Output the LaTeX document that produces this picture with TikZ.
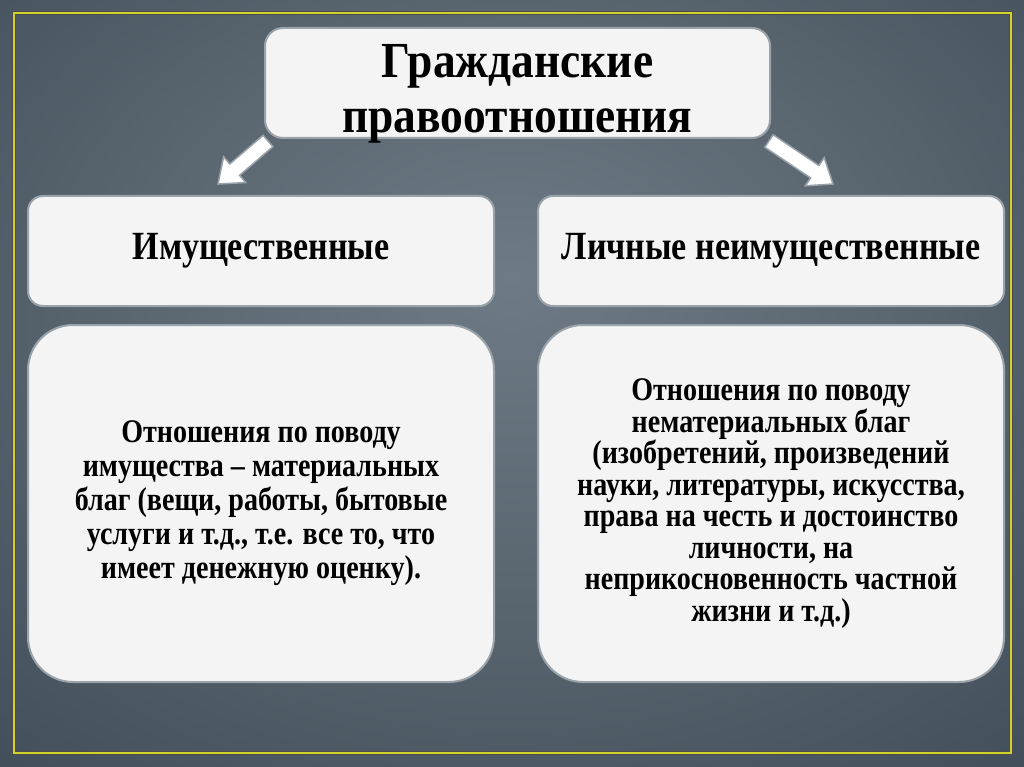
\documentclass[tikz,border=0pt]{standalone}
\usepackage{fontspec}
\setmainfont{Liberation Serif}
\newfontfamily\titlefont[FakeStretch=0.9]{Liberation Serif}
\newfontfamily\condfont[FakeStretch=0.85]{Liberation Serif}
\usetikzlibrary{calc}
\pgfdeclarelayer{back}
\pgfdeclarelayer{mid}
\pgfsetlayers{back,mid,main}
\definecolor{bgc}{HTML}{6E7B86}
\definecolor{bgm}{HTML}{58656F}
\definecolor{bgo}{HTML}{3A4652}
\definecolor{bge}{HTML}{25313D}
\definecolor{bgx}{HTML}{1C2834}
\definecolor{boxfill}{HTML}{F4F4F4}
\definecolor{boxline}{HTML}{9AA3A9}
\definecolor{frameyel}{HTML}{D2D22E}
\pgfdeclareradialshading{bgshade}{\pgfpoint{0bp}{7bp}}{color(0bp)=(bgc); color(20bp)=(bgm); color(45bp)=(bgo); color(60bp)=(bge); color(75bp)=(bgx)}
\tikzset{
  card/.style={draw=boxline, line width=2pt, fill=boxfill, inner sep=0pt, align=center, text=black},
  titlebox/.style={card, rounded corners=18pt, minimum width=505pt, minimum height=110pt},
  headbox/.style={card, rounded corners=15pt, minimum width=466pt, minimum height=110pt, font=\condfont\fontsize{40}{44}\selectfont\bfseries},
  bodybox/.style={card, rounded corners=45pt, minimum width=466pt, minimum height=357pt},
  titletext/.style={inner sep=0pt, align=center, text=black, font=\titlefont\fontsize{50.5}{55}\selectfont\bfseries},
  blockarrow/.style={draw=boxline, line width=1.5pt, fill=white, line join=miter}
}
\begin{document}
\begin{tikzpicture}[x=1pt,y=-1pt]
\useasboundingbox (0,0) rectangle (1024,767);
\begin{pgfonlayer}{back}
\shade[shading=bgshade] (0,0) rectangle (1024,767);
\draw[black!70, line width=4.5pt] (14,13) rectangle (1011,753);
\draw[frameyel, line width=2.5pt] (14,13) rectangle (1011,753);
\end{pgfonlayer}

\node[titlebox] (title) at (517.5,83) {};
\node[titletext] (titletxt) at ($(title.center)+(0,11)$) {Гражданские\\правоотношения};
\node[headbox] (imL) at (261,251) {Имущественные};
\node[headbox] (imR) at (771,251) {Личные неимущественные};

\coordinate (la) at ($(title.south west)+(4,2)$);
\coordinate (lb) at ($(imL.north)+(-43,-11)$);
\coordinate (ra) at ($(title.south east)+(-2,2)$);
\coordinate (rb) at ($(imR.north)+(62,-11)$);
\coordinate (ln) at ($(lb)!22pt!(la)$);
\coordinate (rn) at ($(rb)!22pt!(ra)$);
\begin{pgfonlayer}{mid}
\draw[blockarrow] ($(la)!7.5pt!90:(lb)$) -- ($(ln)!7.5pt!-90:(la)$) -- ($(ln)!17pt!-90:(la)$) -- (lb)
  -- ($(ln)!17pt!90:(la)$) -- ($(ln)!7.5pt!90:(la)$) -- ($(la)!7.5pt!-90:(lb)$) -- cycle;
\draw[blockarrow] ($(ra)!7.5pt!90:(rb)$) -- ($(rn)!7.5pt!-90:(ra)$) -- ($(rn)!17pt!-90:(ra)$) -- (rb)
  -- ($(rn)!17pt!90:(ra)$) -- ($(rn)!7.5pt!90:(ra)$) -- ($(ra)!7.5pt!-90:(rb)$) -- cycle;
\end{pgfonlayer}

\node[bodybox, font=\condfont\fontsize{33}{34}\selectfont\bfseries] (bodyL) at (261,503.5) {Отношения по поводу\\имущества – материальных\\благ (вещи, работы, бытовые\\услуги и т.д., т.е. все то, что\\имеет денежную оценку).};
\node[bodybox, font=\condfont\fontsize{33}{31.5}\selectfont\bfseries] (bodyR) at (771,503.5) {Отношения по поводу\\нематериальных благ\\(изобретений, произведений\\науки, литературы, искусства,\\права на честь и достоинство\\личности, на\\неприкосновенность частной\\жизни и т.д.)};
\end{tikzpicture}
\end{document}
